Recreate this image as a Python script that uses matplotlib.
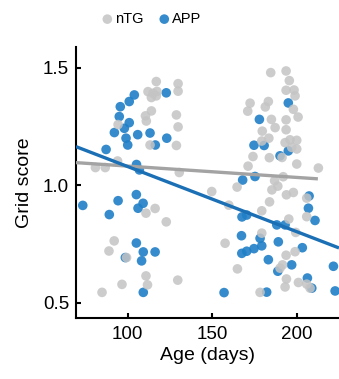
import matplotlib
matplotlib.use("Agg")
import matplotlib.pyplot as plt
import numpy as np

plt.rcParams['font.family'] = ['Liberation Sans', 'DejaVu Sans']

# nTG (grey) points: age in days, grid score
ntg_age = [116.9, 129.8, 129.8, 112.0, 115.0, 117.3, 114.0, 116.9, 114.0, 110.5,
           111.0, 128.8, 129.8, 94.3, 113.2, 128.8, 80.9, 86.7, 94.0, 130.5,
           110.8, 116.2, 122.8, 92.0, 88.9, 99.3, 110.8, 111.7, 96.6, 84.8, 129.6,
           184.6, 193.7, 195.6, 193.7, 198.4, 199.0, 172.4, 171.0, 183.2, 181.4,
           198.0, 200.8, 185.0, 187.2, 193.7, 179.6, 183.5, 179.3, 193.7, 196.0,
           200.0, 193.1, 197.0, 200.0, 191.3, 174.1, 183.8, 200.0, 171.2, 212.8,
           192.0, 186.9, 188.8, 185.3, 149.7, 164.7, 193.9, 198.0, 205.9, 183.9,
           159.8, 179.3, 205.9, 195.3, 199.4, 179.3, 157.6, 193.7, 199.0, 191.6,
           190.1, 164.9, 193.9, 193.1, 201.0, 205.9, 207.9, 178.3]
ntg_score = [1.442, 1.433, 1.401, 1.399, 1.392, 1.400, 1.374, 1.381, 1.317, 1.296,
             1.274, 1.300, 1.249, 1.259, 1.172, 1.170, 1.076, 1.076, 1.104, 1.055,
             0.882, 0.902, 0.845, 0.764, 0.721, 0.693, 0.615, 0.577, 0.579, 0.545, 0.597,
             1.480, 1.487, 1.446, 1.405, 1.406, 1.381, 1.350, 1.316, 1.357, 1.334,
             1.324, 1.291, 1.281, 1.246, 1.279, 1.231, 1.201, 1.189, 1.237, 1.194,
             1.192, 1.182, 1.162, 1.155, 1.119, 1.123, 1.118, 1.091, 1.082, 1.074,
             1.037, 1.020, 0.997, 0.981, 0.974, 0.993, 0.960, 0.970, 0.946, 0.930,
             0.916, 0.892, 0.867, 0.857, 0.800, 0.797, 0.754, 0.703, 0.718, 0.662,
             0.648, 0.645, 0.602, 0.568, 0.587, 0.580, 0.563, 0.545]

# APP (blue) points
app_age = [103.9, 100.9, 95.6, 95.0, 100.9, 98.0, 92.1, 105.9, 113.2, 122.8,
           123.1, 116.3, 100.0, 87.2, 105.2, 106.9, 73.4, 94.3, 89.1, 105.1,
           109.1, 106.1, 105.1, 109.2, 116.2, 98.6, 108.2, 109.2, 99.0,
           195.0, 177.9, 174.7, 180.7, 195.0, 168.0, 175.3, 207.3, 206.9, 210.8,
           167.6, 170.4, 188.2, 193.1, 167.3, 178.3, 189.1, 167.5, 170.4, 174.7,
           179.3, 203.3, 183.2, 197.0, 188.8, 221.7, 206.3, 208.9, 157.0, 182.2,
           222.7, 190.1]
app_score = [1.385, 1.357, 1.335, 1.293, 1.267, 1.243, 1.225, 1.216, 1.223, 1.394,
             1.201, 1.172, 1.172, 1.153, 1.089, 1.066, 0.915, 0.935, 0.876, 0.961,
             0.924, 0.903, 0.755, 0.717, 0.717, 0.693, 0.679, 0.545, 1.201,
             1.351, 1.281, 1.171, 1.170, 1.147, 1.023, 1.038, 0.955, 0.903, 0.851,
             0.866, 0.874, 0.832, 0.832, 0.786, 0.775, 0.760, 0.711, 0.720, 0.731,
             0.743, 0.735, 0.684, 0.662, 0.635, 0.656, 0.606, 0.563, 0.544, 0.546,
             0.551, 1.126]

# regression lines (end points)
ntg_fit_age = [69.4, 212.5]
ntg_fit_score = [1.097, 1.028]
app_fit_age = [69.4, 225.0]
app_fit_score = [1.165, 0.734]

grey = '#c4c4c4'
blue = '#1f7fc6'

fig = plt.figure(figsize=(3.39, 3.79), dpi=100)
ax = fig.add_axes([0.2242, 0.161, 0.7758, 0.715])

ax.scatter(app_age, app_score, s=48, color=blue, alpha=0.9, edgecolors='none',
           zorder=2, label='APP')
ax.scatter(ntg_age, ntg_score, s=48, color=grey, alpha=0.85, edgecolors='none',
           zorder=3, label='nTG')
ax.plot(ntg_fit_age, ntg_fit_score, color='#a3a3a3', lw=2.4, zorder=4,
        solid_capstyle='butt')
ax.plot(app_fit_age, app_fit_score, color='#1a6fb5', lw=2.4, zorder=4,
        solid_capstyle='butt')

ax.set_xlim(69.4, 225)
ax.set_ylim(0.436, 1.589)
ax.set_xticks([100, 150, 200])
ax.set_yticks([0.5, 1.0, 1.5])
ax.set_yticklabels(['0.5', '1.0', '1.5'])
for s in ['top', 'right']:
    ax.spines[s].set_visible(False)
for s in ['left', 'bottom']:
    ax.spines[s].set_linewidth(1.5)
ax.tick_params(direction='in', length=3.5, width=1.5, labelsize=13.5)
ax.tick_params(axis='x', pad=6)
ax.tick_params(axis='y', pad=5)
ax.set_xlabel('Age (days)', fontsize=14, labelpad=3)
ax.set_ylabel('Grid score', fontsize=14, labelpad=7)

h, l = ax.get_legend_handles_labels()
fig.legend(h[::-1], l[::-1], loc='center', bbox_to_anchor=(0.433, 0.95), ncol=2,
           frameon=False, fontsize=10.5, handletextpad=-0.5, columnspacing=0.45,
           markerscale=1.0, borderpad=0)

fig.savefig('out.png', dpi=100)
